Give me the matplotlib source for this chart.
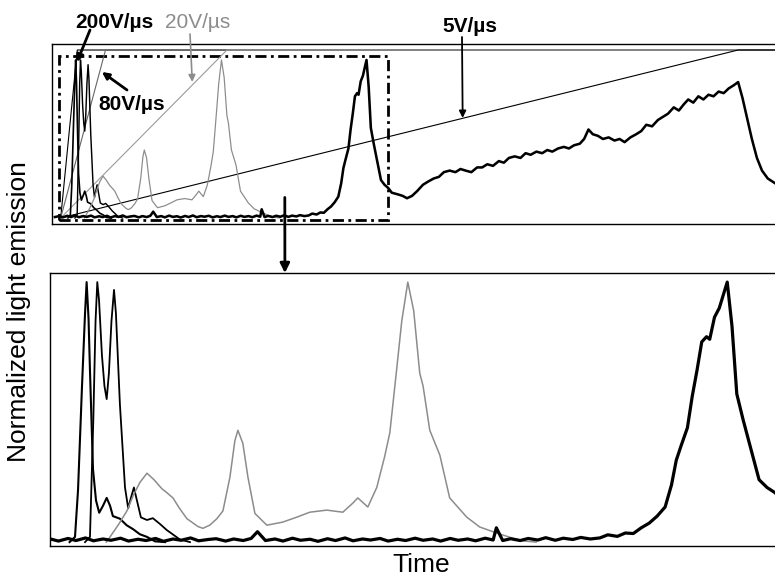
import matplotlib.pyplot as plt
from matplotlib.patches import Rectangle

plt.rcParams['font.family'] = ['Liberation Sans', 'DejaVu Sans']

# time axis in arbitrary units, emission normalised to its peak
t_200 = [2.2, 2.54, 2.73, 2.98, 3.17, 3.27, 3.39, 3.48, 3.67, 3.86, 4.06, 4.30, 4.53, 4.74, 4.92,
         5.36, 5.78, 6.18, 6.62, 7.06, 7.56, 8.2]
e_200 = [0.0, 0.02, 0.2, 0.6, 0.88, 1.0, 0.86, 0.66, 0.28, 0.16, 0.113, 0.14, 0.17, 0.14, 0.10,
         0.09, 0.065, 0.05, 0.03, 0.02, 0.003, 0.0]

t_80 = [3.17, 3.48, 3.69, 3.83, 3.94, 4.05, 4.23, 4.39, 4.53, 4.67, 4.83, 4.99, 5.11, 5.36, 5.68,
        5.88, 6.05, 6.24, 6.43, 6.68, 7.06, 7.43, 7.87, 8.31, 9.13, 9.76]
e_80 = [0.0, 0.02, 0.47, 0.85, 1.0, 0.93, 0.72, 0.60, 0.55, 0.65, 0.85, 0.97, 0.88, 0.53, 0.21,
        0.13, 0.17, 0.21, 0.16, 0.095, 0.085, 0.092, 0.07, 0.046, 0.01, 0.0]

t_20 = [4.5, 4.74, 5.3, 5.80, 6.2, 6.62, 7.06, 7.5, 8.0, 8.31, 8.69, 9.1, 9.57, 10.26, 10.57,
        11.0, 11.45, 11.83, 12.27, 12.58, 12.77, 13.08, 13.40, 13.84, 14.59, 15.59, 16.47, 17.29,
        18.35, 19.36, 19.99, 20.30, 20.93, 21.49, 21.99, 22.31, 22.75, 23.06, 23.44, 23.81, 24.19,
        24.4, 24.82, 25.45, 26.07, 27.14, 27.96, 29.02, 30.03, 30.78, 31.5]
e_20 = [0.0, 0.02, 0.07, 0.12, 0.18, 0.23, 0.265, 0.24, 0.205, 0.19, 0.17, 0.13, 0.09, 0.06, 0.053,
        0.065, 0.09, 0.12, 0.25, 0.39, 0.43, 0.38, 0.25, 0.11, 0.065, 0.077, 0.096, 0.115,
        0.123, 0.115, 0.15, 0.17, 0.135, 0.21, 0.33, 0.42, 0.67, 0.85, 1.0, 0.89, 0.65,
        0.60, 0.43, 0.335, 0.17, 0.096, 0.058, 0.035, 0.015, 0.004, 0.0]

t_5 = [0.4, 1.0, 1.5, 2.1, 2.6, 3.2, 3.7, 4.3, 4.8, 5.4,
       5.9, 6.5, 7.0, 7.6, 8.1, 8.7, 9.2, 9.8, 10.3, 10.9,
       11.4, 12.0, 12.5, 13.1, 13.6, 14.0, 14.5, 15.1, 15.6, 16.2,
       16.7, 17.3, 17.8, 18.4, 18.9, 19.5, 20.0, 20.6, 21.1, 21.7,
       22.2, 22.8, 23.3, 23.9, 24.4, 25.0, 25.5, 26.1, 26.6, 27.2,
       27.7, 28.3, 28.8, 29.0, 29.4, 29.9, 30.5, 31.0, 31.6, 32.1,
       32.7, 33.2, 33.8, 34.3, 34.9, 35.5, 36.0, 36.6, 37.1, 37.6,
       38.1, 38.6, 39.1, 39.6, 40.0, 40.3, 40.6, 41.0, 41.3, 41.6,
       41.9, 42.2, 42.4, 42.7, 43.0, 43.2, 43.5, 43.8, 44.1, 44.5,
       45.0, 45.5, 46.0, 46.5, 47.0, 47.8, 48.5, 49.1, 49.8, 50.5,
       51.3, 52.0, 52.8, 53.5, 54.2, 55.0, 55.8, 56.5, 57.2, 58.0,
       58.8, 59.5, 60.2, 61.0, 61.8, 62.5, 63.2, 64.0, 64.8, 65.5,
       66.2, 67.0, 67.8, 68.5, 69.2, 70.0, 70.8, 71.5, 72.2, 73.0,
       73.6, 74.2, 74.8, 75.5, 76.2, 77.0, 77.8, 78.5, 79.2, 80.0,
       80.8, 81.5, 82.2, 83.0, 83.8, 84.5, 85.2, 86.0, 86.7, 87.4,
       88.0, 88.7, 89.4, 90.1, 90.8, 91.5, 92.2, 92.9, 93.6, 94.3,
       94.9, 95.5, 96.1, 96.8, 97.5, 98.2, 99.0, 100.0]
e_5 = [0.006, 0.012, 0.004, 0.014, 0.006, 0.016, 0.005, 0.012, 0.007, 0.015,
       0.004, 0.011, 0.006, 0.014, 0.003, 0.012, 0.007, 0.016, 0.005, 0.010,
       0.013, 0.004, 0.012, 0.006, 0.014, 0.040, 0.006, 0.012, 0.004, 0.015,
       0.007, 0.011, 0.003, 0.013, 0.006, 0.016, 0.005, 0.012, 0.008, 0.014,
       0.004, 0.011, 0.006, 0.015, 0.007, 0.012, 0.004, 0.014, 0.007, 0.012,
       0.005, 0.015, 0.008, 0.055, 0.006, 0.013, 0.006, 0.014, 0.008, 0.017,
       0.007, 0.015, 0.010, 0.018, 0.012, 0.016, 0.028, 0.022, 0.035, 0.033,
       0.055, 0.073, 0.100, 0.135, 0.220, 0.315, 0.370, 0.440, 0.560, 0.660,
       0.770, 0.790, 0.780, 0.865, 0.900, 0.940, 1.000, 0.830, 0.570, 0.470,
       0.355, 0.240, 0.210, 0.190, 0.160, 0.150, 0.140, 0.125, 0.140, 0.170,
       0.210, 0.230, 0.250, 0.260, 0.290, 0.300, 0.290, 0.310, 0.300, 0.290,
       0.320, 0.320, 0.340, 0.330, 0.360, 0.350, 0.380, 0.390, 0.380, 0.410,
       0.400, 0.420, 0.410, 0.430, 0.420, 0.440, 0.450, 0.440, 0.460, 0.470,
       0.500, 0.560, 0.530, 0.520, 0.500, 0.510, 0.490, 0.500, 0.480, 0.510,
       0.530, 0.550, 0.590, 0.580, 0.620, 0.640, 0.660, 0.700, 0.680, 0.720,
       0.750, 0.730, 0.770, 0.750, 0.780, 0.770, 0.800, 0.790, 0.820, 0.840,
       0.860, 0.760, 0.640, 0.500, 0.380, 0.300, 0.250, 0.220]

# voltage ramps drawn in the upper panel (same start, plateau at ramp_top)
ramp_labels = ['200V/µs', '80V/µs', '20V/µs', '5V/µs']
ramp_start = 1.2
ramp_end = [3.5, 7.4, 24.2, 94.9]
ramp_top = 1.063

# time window magnified in the lower panel
zoom_t = (0.97, 46.5)

W, H = 775, 577
fig = plt.figure(figsize=(W / 100, H / 100), dpi=100)
ax_top = fig.add_axes([52 / W, 1 - 224 / H, 723 / W, 180 / H])
ax_bot = fig.add_axes([50 / W, 1 - 546 / H, 725 / W, 273 / H])

gray = '#8c8c8c'
curves = [(t_200, e_200, 'black', 1.5), (t_80, e_80, 'black', 1.3),
          (t_20, e_20, gray, 1.1), (t_5, e_5, 'black', 2.3)]

# upper panel: ramps + all emission traces
ramp_colors = ['black', '#666666', '#9a9a9a', 'black']
for te, c in zip(ramp_end, ramp_colors):
    ax_top.plot([ramp_start, te, 100], [0, ramp_top, ramp_top], color=c, lw=0.8)
for t, e, c, lw in curves:
    ax_top.plot(t, e, color=c, lw=lw * 0.8)

ax_top.add_patch(Rectangle((zoom_t[0], -0.013), zoom_t[1] - zoom_t[0], 1.038, fill=False,
                           ec='black', lw=2.0, ls=(0, (4, 1.6, 1, 1.6))))
ax_top.set_xlim(0, 100)
ax_top.set_ylim(-0.038, 1.101)

# lower panel: zoom of the dash-dot window
for t, e, c, lw in curves:
    ax_bot.plot(t, e, color=c, lw=lw)
ax_bot.set_xlim(*zoom_t)
ax_bot.set_ylim(-0.015, 1.035)

for ax in (ax_top, ax_bot):
    ax.set_xticks([])
    ax.set_yticks([])
    ax.spines['right'].set_visible(False)
    for s in ('top', 'bottom', 'left'):
        ax.spines[s].set_linewidth(1.0)

# arrow from the upper panel down to the zoom
ax_bot.annotate('', xy=(0.324, 1.0), xycoords='axes fraction',
                xytext=(32.2, 0.13), textcoords=ax_top.transData,
                arrowprops=dict(arrowstyle='-|>', color='black', lw=2.0,
                                mutation_scale=14, shrinkA=0, shrinkB=0))

# slew-rate labels and their arrows
def fp(x, y):
    return (x / W, 1 - y / H)

fig.text(*fp(114, 28), '200V/µs', ha='center', va='baseline', fontsize=15, fontweight='bold')
fig.text(*fp(198, 28), '20V/µs', ha='center', va='baseline', fontsize=15, color=gray)
fig.text(*fp(132, 110), '80V/µs', ha='center', va='baseline', fontsize=15, fontweight='bold')
fig.text(*fp(470, 32), '5V/µs', ha='center', va='baseline', fontsize=15, fontweight='bold')

arrows = [((3.46, 0.987), fp(90, 30), 'black', 2.0),
          ((6.9, 0.924), fp(127, 90), 'black', 2.0),
          ((19.4, 0.861), fp(190, 34), gray, 1.2),
          ((56.8, 0.633), fp(462, 37), 'black', 1.3)]
for xy, xyt, c, lw in arrows:
    ax_top.annotate('', xy=xy, xytext=xyt, textcoords='figure fraction',
                    arrowprops=dict(arrowstyle='-|>', color=c, lw=lw,
                                    mutation_scale=10, shrinkA=0, shrinkB=0))

fig.text(*fp(19, 312), 'Normalized light emission', rotation=90, ha='center', va='center',
         fontsize=19)
fig.text(*fp(421, 565), 'Time', ha='center', va='center', fontsize=19)

fig.savefig('out.png', dpi=100)
